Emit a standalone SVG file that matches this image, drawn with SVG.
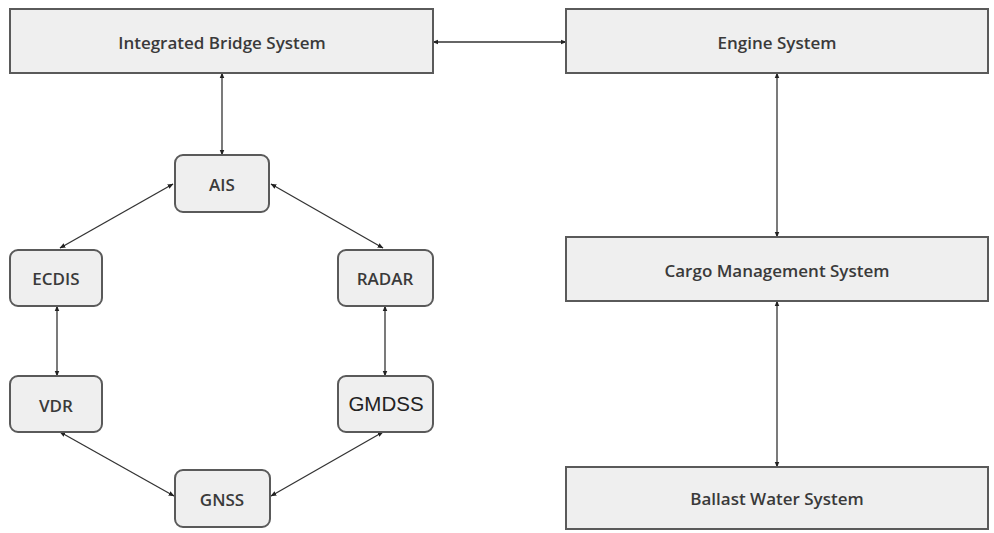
<svg xmlns="http://www.w3.org/2000/svg" width="994" height="533" viewBox="0 0 994 533">
<defs>
<marker id="ah" viewBox="0 0 10 10" refX="9" refY="5" markerWidth="6" markerHeight="6" orient="auto-start-reverse" markerUnits="userSpaceOnUse">
<path d="M0,1 L10,5 L0,9 Z" fill="#222"/>
</marker>
<style>
.box{fill:#efefef;stroke:#5a5a5a;stroke-width:2}
.t{font-family:"Open Sans","Liberation Sans",sans-serif;font-size:17px;font-weight:600;fill:#3a3a3a;text-anchor:middle;dominant-baseline:central}
.g{font-family:"Liberation Sans",Arial,sans-serif;font-size:20.5px;fill:#222;text-anchor:middle;dominant-baseline:central}
.c{stroke:#333;stroke-width:1.3;fill:none;marker-start:url(#ah);marker-end:url(#ah)}
</style>
</defs>
<rect width="994" height="533" fill="#fff"/>
<g id="connectors">
<line class="c" x1="433" y1="42" x2="566" y2="42"/>
<line class="c" x1="222" y1="73" x2="222" y2="155"/>
<line class="c" x1="173" y1="184" x2="60" y2="248"/>
<line class="c" x1="271" y1="184" x2="383" y2="248"/>
<line class="c" x1="57" y1="306" x2="57" y2="376"/>
<line class="c" x1="385" y1="306" x2="385" y2="376"/>
<line class="c" x1="60" y1="432" x2="174" y2="496"/>
<line class="c" x1="383" y1="432" x2="271" y2="496"/>
<line class="c" x1="777" y1="73" x2="777" y2="237"/>
<line class="c" x1="777" y1="301" x2="777" y2="467"/>
</g>
<g id="ibs"><rect class="box" x="10" y="9" width="423" height="64"/><text class="t" x="222" y="42">Integrated Bridge System</text></g>
<g id="engine"><rect class="box" x="566" y="9" width="422" height="64"/><text class="t" x="777" y="42">Engine System</text></g>
<g id="cargo"><rect class="box" x="566" y="237" width="422" height="64"/><text class="t" x="777" y="270">Cargo Management System</text></g>
<g id="ballast"><rect class="box" x="566" y="467" width="422" height="62"/><text class="t" x="777" y="498">Ballast Water System</text></g>
<g id="ais"><rect class="box" x="175" y="155" width="94" height="57" rx="8"/><text class="t" x="222" y="184">AIS</text></g>
<g id="ecdis"><rect class="box" x="10" y="250" width="92" height="56" rx="8"/><text class="t" x="56" y="278">ECDIS</text></g>
<g id="radar"><rect class="box" x="338" y="250" width="95" height="56" rx="8"/><text class="t" x="385" y="278">RADAR</text></g>
<g id="vdr"><rect class="box" x="10" y="376" width="92" height="56" rx="8"/><text class="t" x="56" y="405">VDR</text></g>
<g id="gmdss"><rect class="box" x="338" y="376" width="95" height="56" rx="8"/><text class="g" x="386" y="403">GMDSS</text></g>
<g id="gnss"><rect class="box" x="175" y="470" width="95" height="57" rx="8"/><text class="t" x="222" y="499">GNSS</text></g>
</svg>
